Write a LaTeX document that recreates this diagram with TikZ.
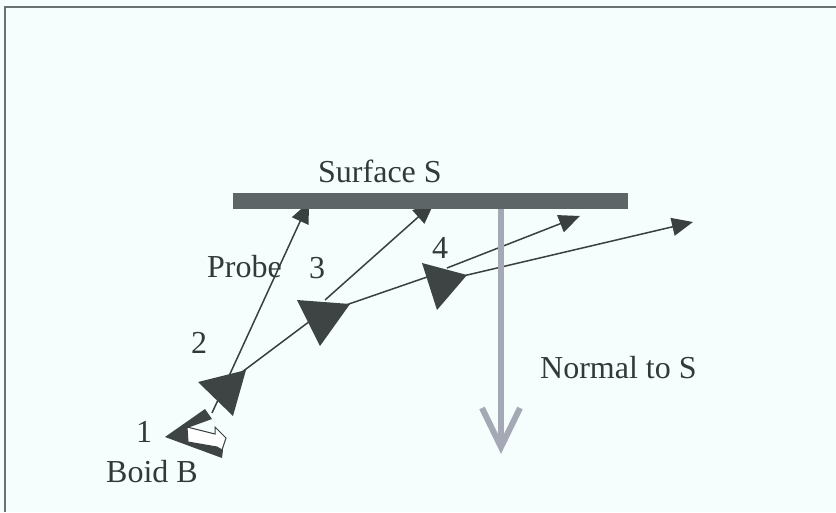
\documentclass[tikz,border=0pt]{standalone}
\usepackage{fontspec}
\setmainfont{Liberation Serif}
\usetikzlibrary{arrows.meta}
\definecolor{bgc}{HTML}{F5FEFC}
\definecolor{framec}{HTML}{6B7171}
\definecolor{barc}{HTML}{5E6566}
\definecolor{tric}{HTML}{3E4444}
\definecolor{linec}{HTML}{3A3F3F}
\definecolor{normc}{HTML}{A5A9B5}
\definecolor{txtc}{HTML}{333838}
\begin{document}
\begin{tikzpicture}[x=1pt,y=-1pt,
  lbl/.style={font=\fontsize{32}{38}\selectfont, text=txtc, inner sep=0pt, anchor=base west},
  trail/.style={draw=linec, line width=1.5pt},
  tipped/.style={trail, -{Triangle[length=21pt,width=18pt]}},
  boidtri/.style={fill=tric},
  normalarrow/.style={draw=normc, line width=6pt}]
\fill[bgc] (0,0) rectangle (836,512);
\useasboundingbox (0,0) rectangle (836,512);
\draw[framec, line width=2pt] (5,512) -- (5,7) -- (836,7);
% coordinates
\coordinate (b1) at (212,413);
\coordinate (t2r) at (242,372);
\coordinate (t3) at (322,312);
\coordinate (t3top) at (325,300);
\coordinate (t3r) at (346,305);
\coordinate (t4) at (430,276);
\coordinate (t4top) at (447,268);
\coordinate (t4r) at (463,276);
\coordinate (s1) at (309,202);
\coordinate (s3) at (434,203);
\coordinate (e4a) at (580,216);
\coordinate (e4b) at (693,222);
\coordinate (ntop) at (501,209);
\coordinate (ntip) at (501,447);
% connectors
\draw[tipped] (b1) -- (s1);
\draw[tipped] (t3top) -- (s3);
\draw[trail] (t2r) -- (t3);
\draw[trail] (t3r) -- (t4);
\draw[tipped] (t4top) -- (e4a);
\draw[tipped] (t4r) -- (e4b);
% surface
\node[fill=barc, minimum width=395pt, minimum height=16pt, inner sep=0pt] (surf) at (430.5,201) {};
\node[lbl] (surflbl) at (318,182) {Surface S};
% normal
\draw[normalarrow] (ntop) -- (ntip);
\draw[normalarrow, miter limit=10] (482,408) -- (ntip) -- (520,408);
\node[lbl] (normlbl) at (540,378) {Normal to S};
% triangles
\fill[boidtri] (198,382) -- (246,370) -- (233,416) -- cycle;
\fill[boidtri] (297,300) -- (350,304) -- (320,346) -- cycle;
\fill[boidtri] (422,263) -- (467,275) -- (437,310) -- cycle;
% boid B
\fill[tric] (165,437) -- (205,409) -- (212,419) -- (190,427) -- (188,442) -- (217,447) -- (223,450) -- (222,458) -- cycle;
\draw[linec, fill=white, line width=1pt, line join=miter] (187,427) -- (215,434) -- (215,427) -- (226,438) -- (222,450) -- (217,447) -- (188,442) -- cycle;
% labels
\node[lbl] (probe) at (207,277) {Probe};
\node[lbl] (n1) at (136,442) {1};
\node[lbl] (n2) at (191,353) {2};
\node[lbl] (n3) at (309,278) {3};
\node[lbl] (n4) at (432,258) {4};
\node[lbl] (boid) at (106,482) {Boid B};
\end{tikzpicture}
\end{document}
